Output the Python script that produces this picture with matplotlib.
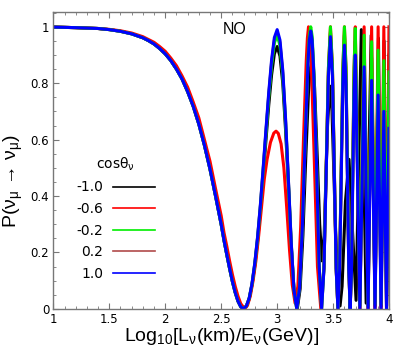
"""Muon neutrino survival probability vs log10(L/E) for several zenith angles (NO)"""
import matplotlib
matplotlib.use("Agg")
import matplotlib.pyplot as plt
from matplotlib.ticker import MultipleLocator

plt.rcParams['mathtext.default'] = 'regular'

# Shared low L/E part (all curves coincide here)
HEAD_X = [1.0, 1.2, 1.4, 1.5, 1.6, 1.7, 1.8, 1.85, 1.9, 1.95, 2.0, 2.05, 2.1, 2.15, 2.2, 2.25,
          2.3, 2.35, 2.4, 2.45, 2.5, 2.525, 2.55, 2.575, 2.6, 2.625, 2.65, 2.675]
HEAD_P = [0.999, 0.997, 0.994, 0.990, 0.984, 0.975, 0.961, 0.951, 0.939, 0.923, 0.904, 0.880,
          0.850, 0.815, 0.770, 0.718, 0.655, 0.580, 0.495, 0.399, 0.299, 0.243, 0.192, 0.143,
          0.097, 0.058, 0.027, 0.007]
RED_HEAD_P = [0.999, 0.997, 0.994, 0.991, 0.986, 0.978, 0.965, 0.955, 0.945, 0.930, 0.913, 0.889,
              0.862, 0.826, 0.786, 0.733, 0.677, 0.600, 0.523, 0.425, 0.330, 0.270, 0.222, 0.170,
              0.122, 0.080, 0.045, 0.018]

# First dip / peak region
MID_X = [2.698, 2.725, 2.75, 2.775, 2.8, 2.825, 2.85, 2.875, 2.9, 2.925, 2.95, 2.975, 3.0,
         3.025, 3.05, 3.075, 3.1, 3.125, 3.15, 3.175, 3.2, 3.225, 3.25, 3.275, 3.2875, 3.3,
         3.3125, 3.325, 3.35, 3.375]
BLUE_MID = [0, 0.01, 0.038, 0.089, 0.162, 0.255, 0.369, 0.50, 0.637, 0.769, 0.882, 0.962, 0.99,
            0.953, 0.846, 0.675, 0.461, 0.24, 0.067, 0, 0.074, 0.287, 0.592, 0.869, 0.954,
            0.985, 0.952, 0.855, 0.538, 0.152]
GREEN_MID = [0, 0.01, 0.037, 0.087, 0.159, 0.25, 0.362, 0.49, 0.624, 0.754, 0.864, 0.943, 0.97,
             0.934, 0.829, 0.662, 0.452, 0.235, 0.066, 0, 0.075, 0.291, 0.601, 0.882, 0.969,
             1.0, 0.967, 0.868, 0.546, 0.154]
BROWN_MID = [0, 0.01, 0.037, 0.088, 0.160, 0.253, 0.365, 0.495, 0.630, 0.761, 0.873, 0.953,
             0.98, 0.944, 0.838, 0.668, 0.457, 0.237, 0.066, 0, 0.074, 0.287, 0.592, 0.869,
             0.954, 0.985, 0.952, 0.855, 0.538, 0.152]

# Fast oscillation part
TAIL_X = [3.397, 3.418, 3.458, 3.476, 3.494, 3.527, 3.543, 3.558, 3.587, 3.601, 3.615, 3.640,
          3.652, 3.664, 3.687, 3.698, 3.739, 3.777, 3.812, 3.844, 3.874, 3.902, 3.928, 3.953,
          3.977, 3.999]
BLUE_TAIL = [0, 0.141, 0.824, 0.965, 0.824, 0.141, 0, 0.137, 0.798, 0.935, 0.798, 0.137,
             0, 0.131, 0.769, 0.90, 0, 0.858, 0, 0.81, 0, 0.758, 0, 0.70, 0, 0.64]
GREEN_TAIL = [0, 0.146, 0.854, 1.0, 0.854, 0.146, 0, 0.146, 0.854, 1.0, 0.854, 0.146,
              0, 0.145, 0.849, 0.994, 0.01, 0.97, 0.01, 0.947, 0.015, 0.917, 0.015, 0.88, 0.02, 0.84]
BROWN_TAIL = [0, 0.143, 0.84, 0.98, 0.84, 0.143, 0, 0.142, 0.83, 0.97, 0.83, 0.142,
              0, 0.14, 0.82, 0.95, 0, 0.92, 0, 0.89, 0, 0.86, 0, 0.82, 0, 0.78]

RED_X = [2.71, 2.735, 2.76, 2.785, 2.81, 2.835, 2.86, 2.885, 2.91, 2.94, 2.97, 2.99, 3.01,
         3.035, 3.06, 3.085, 3.11, 3.135, 3.16, 3.185, 3.21, 3.235, 3.26, 3.27, 3.28, 3.29,
         3.305, 3.33, 3.36, 3.39]
RED_P = [0, 0.012, 0.045, 0.10, 0.17, 0.26, 0.36, 0.46, 0.53, 0.59, 0.623, 0.63, 0.622,
         0.585, 0.50, 0.36, 0.21, 0.085, 0.02, 0.08, 0.29, 0.60, 0.88, 0.96, 1.0, 0.97,
         0.87, 0.55, 0.15, 0]
RED_TAIL = [0.146, 0.854, 1.0, 0.854, 0.146, 0, 0.146, 0.854, 1.0, 0.854, 0.146,
            0, 0.146, 0.854, 1.0, 0, 1.0, 0, 1.0, 0, 1.0, 0, 1.0, 0, 1.0]

BLACK_X = [2.698, 2.725, 2.75, 2.775, 2.8, 2.825, 2.85, 2.875, 2.9, 2.925, 2.95, 2.975, 3.0,
           3.025, 3.05, 3.075, 3.1, 3.125, 3.15, 3.18, 3.205, 3.23, 3.255, 3.28, 3.295, 3.31,
           3.325, 3.335, 3.36, 3.38, 3.40, 3.42, 3.45, 3.47, 3.49, 3.52, 3.545, 3.562, 3.58,
           3.61, 3.642, 3.67, 3.705, 3.73, 3.752, 3.795, 3.84, 3.875, 3.905, 3.93, 3.955,
           3.978, 4.0]
BLACK_P = [0, 0.009, 0.035, 0.084, 0.152, 0.24, 0.347, 0.47, 0.598, 0.723, 0.829, 0.904, 0.93,
           0.896, 0.80, 0.634, 0.44, 0.225, 0.07, 0.0, 0.07, 0.26, 0.53, 0.77, 0.85, 0.875,
           0.85, 0.78, 0.52, 0.30, 0.17, 0.26, 0.65, 0.79, 0.70, 0.30, 0.06, 0.01, 0.08,
           0.38, 0.53, 0.30, 0.03, 0.55, 0.99, 0.02, 0.97, 0.01, 0.96, 0.01, 0.95,
           0.01, 0.9]

LABELS = ['-1.0', '-0.6', '-0.2', '0.2', '1.0']
COLORS = ['black', '#ff0000', '#00ee00', '#b04a4a', '#0000ff']

series = {
    '-1.0': (HEAD_X + BLACK_X, HEAD_P + BLACK_P),
    '-0.6': (HEAD_X + RED_X + TAIL_X[1:], RED_HEAD_P + RED_P + RED_TAIL),
    '-0.2': (HEAD_X + MID_X + TAIL_X, HEAD_P + GREEN_MID + GREEN_TAIL),
    '0.2': (HEAD_X + MID_X + TAIL_X, HEAD_P + BROWN_MID + BROWN_TAIL),
    '1.0': (HEAD_X + MID_X + TAIL_X, HEAD_P + BLUE_MID + BLUE_TAIL),
}

fig = plt.figure(figsize=(4.07, 3.57), dpi=100)
ax = fig.add_axes([0.131, 0.135, 0.825, 0.831])

# draw order so that red tops show above green, blue on top
order = ['-1.0', '0.2', '-0.6', '-0.2', '1.0']
for lab in order:
    x, y = series[lab]
    c = COLORS[LABELS.index(lab)]
    ax.plot(x, y, color=c, lw=2.2, solid_joinstyle='round')

ax.set_xlim(1, 4)
ax.set_ylim(0, 1.052)
ax.set_xticks([1, 1.5, 2, 2.5, 3, 3.5, 4])
ax.set_xticklabels(['1', '1.5', '2', '2.5', '3', '3.5', '4'])
ax.set_yticks([0, 0.2, 0.4, 0.6, 0.8, 1.0])
ax.set_yticklabels(['0', '0.2', '0.4', '0.6', '0.8', '1'])
ax.xaxis.set_minor_locator(MultipleLocator(0.1))
ax.yaxis.set_minor_locator(MultipleLocator(0.05))
ax.tick_params(which='both', direction='in', top=True, right=True, color='#777777',
               labelsize=8.5, pad=3)
ax.tick_params(which='major', length=4)
ax.tick_params(which='minor', length=2)
for s in ax.spines.values():
    s.set_color('#777777')
    s.set_linewidth(1.0)

ax.set_xlabel(r'Log$_{10}$[L$_{ν}$(km)/E$_{ν}$(GeV)]', fontsize=14,
              family='Liberation Sans', labelpad=0)
ax.set_ylabel(r'P(ν$_{μ}$ → ν$_{μ}$)', fontsize=14, family='Liberation Sans')
ax.yaxis.set_label_coords(-0.085, 0.43)

ax.text(0.541, 0.94, 'NO', transform=ax.transAxes, ha='center', va='center',
        fontsize=11.5, family='Liberation Sans')

# legend in the original label order, label left of the line
leg_handles = [plt.Line2D([], [], color=c, lw=1.2) for c in COLORS]
leg = ax.legend(leg_handles, LABELS, title=r'cosθ$_{ν}$', loc='upper left',
                bbox_to_anchor=(0.04, 0.55), frameon=False, markerfirst=False,
                fontsize=10, title_fontsize=10, handlelength=3.0, handletextpad=0.7,
                labelspacing=0.55, borderpad=0.2)

fig.savefig('out.png', dpi=100)
